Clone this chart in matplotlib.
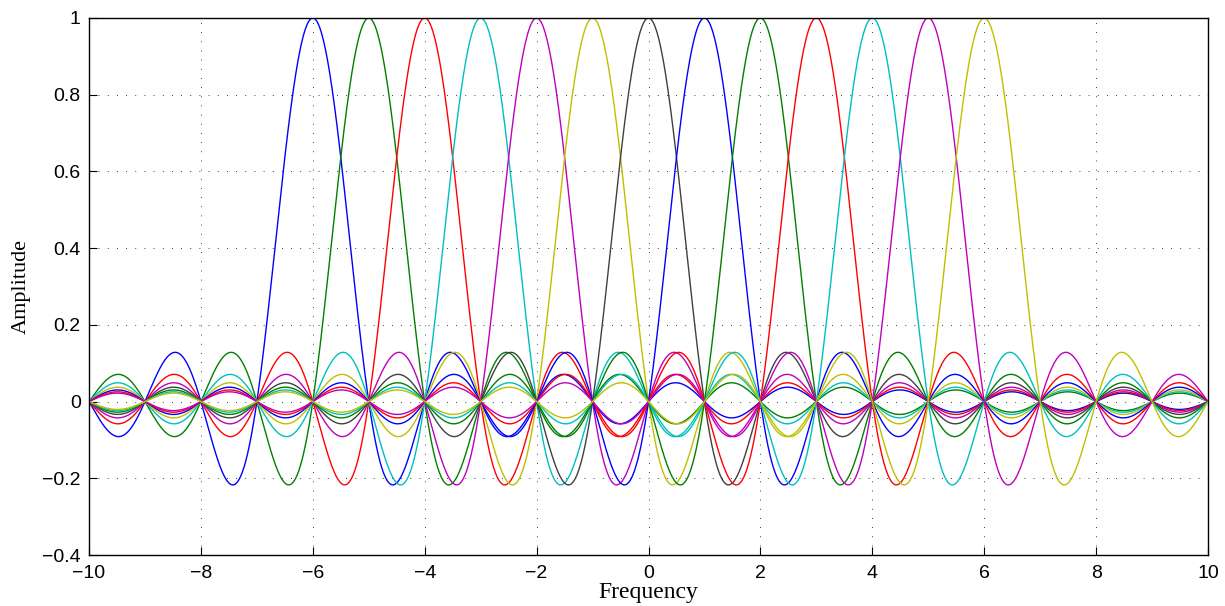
import numpy as np
import matplotlib
matplotlib.use("Agg")
import matplotlib.pyplot as plt

# Subcarrier centre frequencies (each curve is a sinc pulse centred here)
centers = [-6, -5, -4, -3, -2, -1, 0, 1, 2, 3, 4, 5, 6]
colors = [(0, 0, 1), (0, 0.5, 0), (1, 0, 0), (0, 0.75, 0.75),
          (0.75, 0, 0.75), (0.75, 0.75, 0), (0.25, 0.25, 0.25)]
x_ticks = [-10, -8, -6, -4, -2, 0, 2, 4, 6, 8, 10]
y_ticks = [-0.4, -0.2, 0, 0.2, 0.4, 0.6, 0.8, 1]
xlabel = "Frequency"
ylabel = "Amplitude"

def fmt(v):
    s = ("%g" % v)
    return s.replace("-", "\u2212")

fig = plt.figure(figsize=(12.25, 6.06), dpi=100)
ax = fig.add_axes([89/1225, 1 - 555/606, (1208-89)/1225, (555-18)/606])

f = np.linspace(-10, 10, 4001)
for i, c in enumerate(centers):
    ax.plot(f, np.sinc(f - c), color=colors[i % len(colors)], lw=1.0)

ax.set_xlim(-10, 10)
ax.set_ylim(-0.4, 1)
ax.set_xticks(x_ticks)
ax.set_yticks(y_ticks)
ax.set_xticklabels([fmt(v) for v in x_ticks], family="Liberation Sans", fontsize=14)
ax.set_yticklabels([fmt(v) for v in y_ticks], family="Liberation Sans", fontsize=14)
ax.tick_params(direction="in", length=6, width=0.8)
ax.tick_params(axis="x", pad=7)
ax.tick_params(axis="y", pad=6)
ax.grid(True, color="black", linestyle=(0, (1, 10)), linewidth=0.6)
for s in ax.spines.values():
    s.set_linewidth(1.0)
ax.set_xlabel(xlabel, family="Liberation Serif", fontsize=17, labelpad=0)
ax.set_ylabel(ylabel, family="Liberation Serif", fontsize=16, labelpad=8)

fig.savefig("out.png", dpi=100)
